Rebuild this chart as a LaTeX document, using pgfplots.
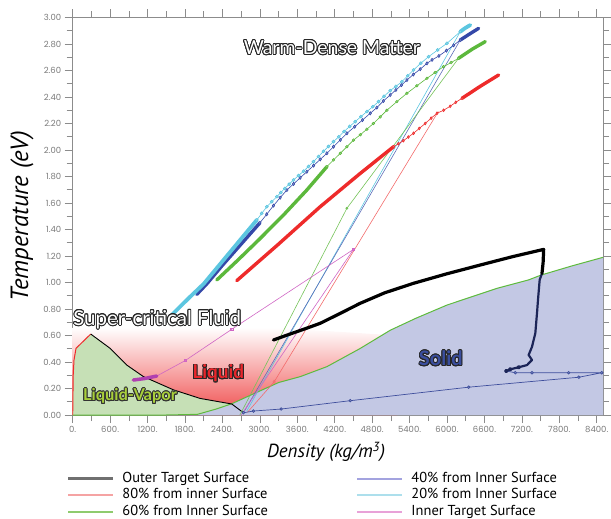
\documentclass[border=0pt]{standalone}
\usepackage{pgfplots}
\pgfplotsset{compat=1.18}
\usepackage{fontspec}
\setmainfont{PT Sans}
\newfontfamily\tickfont{Poppins}
\newfontfamily\labfont{Lato}
\usepackage{contour}
\contourlength{0.9pt}
\definecolor{axgray}{HTML}{8C8C8C}
\definecolor{tickgray}{HTML}{7A7A7A}
\definecolor{solidfill}{HTML}{C3C8E4}
\definecolor{domefill}{HTML}{C6E0B6}
\definecolor{liqred}{HTML}{EE3A3A}
\definecolor{bndgreen}{HTML}{5DBB3C}
\definecolor{cyanc}{HTML}{5CC6E0}
\definecolor{navyc}{HTML}{3448A8}
\definecolor{greenc}{HTML}{5CB83C}
\definecolor{redc}{HTML}{EE2B2B}
\definecolor{pinkc}{HTML}{D066C4}
\definecolor{magc}{HTML}{B040B0}
\definecolor{lownavy}{HTML}{3E4E9C}
\definecolor{darknavy}{HTML}{1C2558}
\definecolor{legGray}{HTML}{707070}
\definecolor{legRed}{HTML}{F5A3A3}
\definecolor{legGreen}{HTML}{8FCB6E}
\definecolor{legBlue}{HTML}{A3A3DF}
\definecolor{legCyan}{HTML}{ADDFEC}
\definecolor{legPink}{HTML}{E8A2D8}
\definecolor{limetxt}{HTML}{A8CF3A}
\definecolor{solidtxt}{HTML}{3A4E9E}
\definecolor{liqtxt}{HTML}{E8262B}
\begin{document}
\begin{tikzpicture}
\useasboundingbox (-72.7bp,-104bp) rectangle (538.3bp,415bp);
\begin{axis}[
  name=ax, at={(0,0)}, anchor=south west,
  scale only axis, width=530.3bp, height=397.5bp,
  xmin=0, xmax=8500, ymin=0, ymax=3,
  xtick={0,600,1200,1800,2400,3000,3600,4200,4800,5400,6000,6600,7200,7800,8400},
  xticklabels={0.,600.,1200.,1800.,2400.,3000.,3600.,4200.,4800.,5400.,6000.,6600.,7200.,7800.,8400.},
  ytick={0,0.2,0.4,0.6,0.8,1,1.2,1.4,1.6,1.8,2,2.2,2.4,2.6,2.8,3},
  yticklabels={0.00,0.20,0.40,0.60,0.80,1.00,1.20,1.40,1.60,1.80,2.00,2.20,2.40,2.60,2.80,3.00},
  minor x tick num=1, minor y tick num=1,
  tick align=outside, tick pos=both,
  major tick length=8bp, minor tick length=6bp,
  every tick/.style={axgray, line width=0.6bp},
  axis line style={axgray, line width=0.8bp},
  tick label style={font=\tickfont\fontsize{8.5}{10}\selectfont, text=tickgray},
  /pgf/number format/assume math mode=true,
  xlabel={\itshape Density (kg/m\textsuperscript{3})},
  ylabel={\itshape Temperature (eV)},
  xlabel style={font=\fontsize{19}{20}\selectfont, at={(rel axis cs:0.478,-0.093)}, anchor=center},
  ylabel style={font=\fontsize{25}{26}\selectfont, at={(rel axis cs:-0.0956,0.5)}, anchor=center},
  legend columns=3, transpose legend,
  legend cell align=left,
  legend image code/.code={\draw[#1] (0bp,0bp) -- (45bp,0bp);},
  legend style={at={(rel axis cs:0,0)}, anchor=north west, xshift=-6bp, yshift=-57bp,
    draw=none, fill=none, inner sep=0pt,
    font=\fontsize{14.5}{15}\selectfont,
    nodes={inner sep=0pt, text height=10bp, text depth=3bp},
    /tikz/row sep=3.4bp,
    /tikz/every odd column/.append style={column sep=8bp},
    /tikz/every even column/.append style={column sep=88bp}},
]
\addlegendimage{line width=2.6bp, color=legGray}\addlegendentry{Outer Target Surface}
\addlegendimage{line width=2bp, color=legRed}\addlegendentry{80\% from inner Surface}
\addlegendimage{line width=2bp, color=legGreen}\addlegendentry{60\% from Inner Surface}
\addlegendimage{line width=2bp, color=legBlue}\addlegendentry{40\% from Inner Surface}
\addlegendimage{line width=2.6bp, color=legCyan}\addlegendentry{20\% from Inner Surface}
\addlegendimage{line width=2bp, color=legPink}\addlegendentry{Inner Target Surface}

% liquid gradient
\addplot[forget plot, draw=none, top color=white, bottom color=liqred!90!white]
  coordinates {(0,0) (0,0.66) (3200,0.66) (5200,0.6) (5200,0)} -- cycle;
% liquid-vapor dome
\addplot[forget plot, draw=none, fill=domefill]
  coordinates {(0,0) (8,0.3) (21,0.415) (53,0.503) (289,0.611) (600,0.503) (866,0.377) (1133,0.29) (1614,0.19) (2043,0.125) (2550,0.083) (2300,0.045) (2000,0.005) (1500,0)} -- cycle;
% solid region
\addplot[forget plot, draw=none, fill=solidfill]
  coordinates {(1500,0) (2000,0.005) (2300,0.045) (2550,0.085) (2900,0.16) (3300,0.245) (3650,0.29) (4075,0.365) (4600,0.5) (5091,0.64) (5500,0.73) (6000,0.83) (6800,0.956) (7310,1.02) (7500,1.055) (8000,1.125) (8500,1.19) (8500,0)} -- cycle;
% boundaries
\addplot[forget plot, bndgreen, line width=1bp]
  coordinates {(0,0) (1500,0) (2000,0.005) (2300,0.045) (2550,0.085) (2900,0.16) (3300,0.245) (3650,0.29) (4075,0.365) (4600,0.5) (5091,0.64) (5500,0.73) (6000,0.83) (6800,0.956) (7310,1.02) (7500,1.055) (8000,1.125) (8500,1.19)};
\addplot[forget plot, redc, line width=1bp]
  coordinates {(0,0) (8,0.3) (21,0.415) (53,0.503) (289,0.611)};
\addplot[forget plot, black, line width=0.9bp]
  coordinates {(289,0.611) (600,0.503) (866,0.377) (1133,0.29) (1614,0.19) (2043,0.125) (2550,0.083) (2737,0.017)};

% thin shock lines
\addplot[forget plot, cyanc, line width=0.6bp] coordinates {(2790,0.03) (6212,2.893)};
\addplot[forget plot, navyc!80!white, line width=0.6bp] coordinates {(2737,0.017) (6212,2.83)};
\addplot[forget plot, greenc!85!white, line width=0.6bp, mark=*, mark size=1.1pt, mark indices={2}] coordinates {(2680,0) (4395,1.56) (6185,2.692)};
\addplot[forget plot, redc!70!white, line width=0.6bp, mark=diamond, mark size=1.6pt, mark indices={2}] coordinates {(2800,0.02) (3229,0.25) (5860,2.29)};
\addplot[forget plot, pinkc, line width=0.6bp, mark=square, mark size=1.1pt, mark indices={2,3,4}]
  coordinates {(2700,0) (4501,1.25) (2550,0.647) (1801,0.41) (1347,0.294)};
\addplot[forget plot, magc, line width=3.5bp, line cap=round]
  coordinates {(1347,0.294) (1150,0.275) (972,0.264)};

% lower outer surface path (navy with markers)
\addplot[forget plot, lownavy, line width=0.7bp, mark=*, mark size=1.3pt, mark options={fill=lownavy!60!white, draw=lownavy}]
  coordinates {(2737,0.017) (2897,0.03) (3341,0.045) (4449,0.108) (6347,0.21) (8112,0.285) (8480,0.319) (7950,0.319) (7362,0.319) (7094,0.319) (6950,0.332)};
\addplot[forget plot, darknavy, line width=2.2bp, line join=round, mark=*, mark size=1.1pt, mark indices={1,2,3}]
  coordinates {(6950,0.332) (7014,0.345) (7148,0.36) (7282,0.377) (7362,0.415) (7308,0.453) (7362,0.515) (7415,0.617) (7430,0.7) (7442,0.768) (7460,0.88) (7485,1.02) (7522,1.069)};
% outer target surface thick (black)
\addplot[forget plot, black, line width=3.2bp, line cap=round, line join=round]
  coordinates {(7522,1.069) (7540,1.15) (7549,1.25) (7050,1.195) (6533,1.132) (6000,1.066) (5463,0.994) (5000,0.922) (4608,0.843) (4280,0.765) (3967,0.692) (3780,0.66) (3593,0.629) (3400,0.597) (3218,0.566)};

% 80% (red)
\addplot[forget plot, redc, line width=0.6bp, mark=diamond*, mark size=1.4pt, mark options={fill=redc!60!white}]
  coordinates {(6240,2.39) (6140,2.36) (6050,2.33) (5945,2.30) (5839,2.277) (5745,2.24) (5650,2.2) (5555,2.163) (5463,2.126) (5380,2.098) (5300,2.07) (5220,2.047) (5143,2.025)};
\addplot[forget plot, redc, line width=3.4bp, line cap=round]
  coordinates {(5143,2.025) (4600,1.82) (3967,1.572) (3300,1.29) (2630,1.014)};
\addplot[forget plot, redc, line width=3.4bp, line cap=round]
  coordinates {(6240,2.39) (6530,2.48) (6827,2.566)};

% 60% (green)
\addplot[forget plot, greenc, line width=0.6bp, mark=*, mark size=1.3pt, mark options={fill=greenc!60!white}]
  coordinates {(6185,2.692) (6065,2.66) (5944,2.629) (5810,2.585) (5678,2.541) (5517,2.485) (5357,2.428) (5196,2.365) (5036,2.30) (4930,2.25) (4820,2.2) (4715,2.157) (4610,2.115) (4501,2.075) (4395,2.025) (4290,1.975) (4180,1.925) (4074,1.874)};
\addplot[forget plot, greenc, line width=3.4bp, line cap=round]
  coordinates {(4074,1.874) (3753,1.698) (3400,1.52) (3000,1.33) (2650,1.17) (2310,1.019)};
\addplot[forget plot, greenc, line width=3.4bp, line cap=round]
  coordinates {(6185,2.692) (6400,2.76) (6613,2.818)};

% 40% (navy/blue)
\addplot[forget plot, navyc, line width=0.6bp, mark=diamond*, mark size=1.6pt, mark options={fill=navyc!55!white}]
  coordinates {(6212,2.83) (6105,2.79) (5990,2.75) (5870,2.71) (5760,2.68) (5678,2.654) (5570,2.61) (5460,2.57) (5357,2.528) (5270,2.49) (5180,2.453) (5089,2.415) (4980,2.37) (4875,2.32) (4769,2.277) (4645,2.226) (4520,2.176) (4395,2.126) (4290,2.076) (4180,2.025) (4074,1.975) (3967,1.929) (3860,1.882) (3753,1.836) (3646,1.79) (3540,1.744) (3433,1.698) (3325,1.64) (3218,1.58) (3110,1.515) (3000,1.45)};
\addplot[forget plot, navyc, line width=3.4bp, line cap=round]
  coordinates {(3000,1.45) (2700,1.29) (2400,1.13) (2150,0.99) (1989,0.91)};
\addplot[forget plot, navyc, line width=3.4bp, line cap=round]
  coordinates {(6212,2.83) (6360,2.875) (6506,2.918)};

% 20% (cyan)
\addplot[forget plot, cyanc, line width=0.6bp, mark=*, mark size=1.5pt, mark options={fill=cyanc!70!white}]
  coordinates {(6212,2.893) (5999,2.805) (5850,2.755) (5704,2.704) (5580,2.655) (5463,2.604) (5370,2.56) (5277,2.516) (5180,2.48) (5089,2.448) (4990,2.405) (4902,2.365) (4810,2.327) (4716,2.29) (4620,2.252) (4528,2.214) (4440,2.178) (4350,2.14) (4265,2.10) (4180,2.063) (4100,2.027) (4020,1.99) (3940,1.951) (3859,1.912) (3780,1.876) (3700,1.84) (3620,1.807) (3539,1.774) (3470,1.742) (3400,1.71) (3336,1.679) (3272,1.648) (3190,1.61) (3112,1.572) (3030,1.522) (2951,1.472)};
\addplot[forget plot, cyanc, line width=3.8bp, line cap=round]
  coordinates {(2951,1.472) (2700,1.33) (2400,1.16) (2100,0.99) (1855,0.88) (1588,0.755)};
\addplot[forget plot, cyanc, line width=3.8bp, line cap=round]
  coordinates {(6212,2.893) (6290,2.92) (6373,2.943)};

% region labels
\node[font=\labfont\fontsize{19.5}{20}\selectfont, text=white] at (axis cs:4154,2.77) {\contour{black!85}{Warm-Dense Matter}};
\node[font=\labfont\fontsize{20.5}{22}\selectfont, text=white] at (axis cs:1354,0.717) {\contour{black!85}{Super-critical Fluid}};
\node[font=\labfont\bfseries\fontsize{19}{20}\selectfont, text=liqtxt] at (axis cs:2335,0.31) {\contour{black!85}{Liquid}};
\node[font=\labfont\bfseries\fontsize{16.5}{18}\selectfont, text=limetxt] at (axis cs:919,0.14) {\contour{black!80}{Liquid-Vapor}};
\node[font=\labfont\bfseries\fontsize{20}{20}\selectfont, text=solidtxt] at (axis cs:5900,0.423) {\contour{black!85}{Solid}};
\end{axis}
\end{tikzpicture}
\end{document}
